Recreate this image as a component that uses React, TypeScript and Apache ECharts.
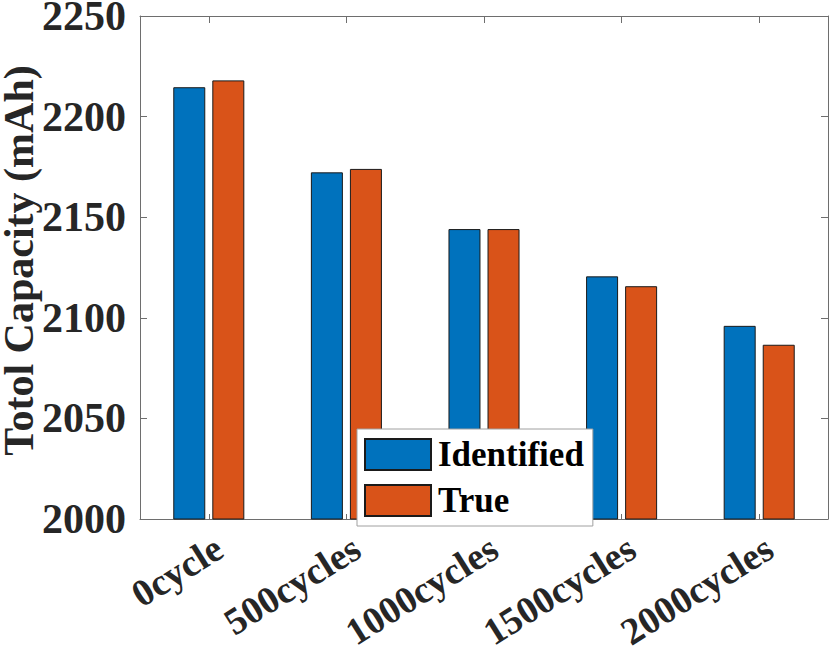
import React, { useEffect, useRef } from "react";
import * as echarts from "echarts";

const categories = ["0cycle", "500cycles", "1000cycles", "1500cycles", "2000cycles"];
const identified = [2214.6, 2172.3, 2144.1, 2120.6, 2096.0];
const trueVals = [2218.0, 2174.0, 2144.1, 2115.7, 2086.6];
const yTicks = { min: 2000, max: 2250, interval: 50 };

const FONT = "'Liberation Serif', 'Times New Roman', serif";
const AXIS_COLOR = "#6e6e6e";
const TEXT_COLOR = "#262626";

export default function App() {
  const ref = useRef<HTMLDivElement>(null);
  useEffect(() => {
    document.body.style.margin = "0";
    const chart = echarts.init(ref.current!, null, { renderer: "svg" });
    chart.setOption({
      animation: false,
      grid: { left: 140, right: 2, top: 16, bottom: 140, containLabel: false, outerBoundsMode: "none" },
      legend: {
        orient: "vertical",
        left: 357,
        top: 429,
        icon: "rect",
        itemWidth: 66,
        itemHeight: 31,
        itemGap: 11,
        padding: [8, 9, 8, 7],
        backgroundColor: "#ffffff",
        borderColor: "#a0a0a0",
        borderWidth: 1,
        textStyle: {
          fontFamily: FONT,
          fontWeight: "bold",
          fontSize: 35,
          color: "#000",
          lineHeight: 31,
          padding: [0, 0, 0, 2],
        },
        data: ["Identified", "True"],
      },
      xAxis: [
        {
          type: "category",
          data: categories,
          position: "bottom",
          axisLine: { show: true, lineStyle: { color: AXIS_COLOR, width: 1 } },
          axisTick: { show: true, inside: true, alignWithLabel: true, length: 5, lineStyle: { color: AXIS_COLOR } },
          axisLabel: {
            rotate: 32,
            margin: 32,
            padding: [0, -12, 0, 0],
            fontFamily: FONT,
            fontWeight: "bold",
            fontSize: 38,
            color: TEXT_COLOR,
          },
          splitLine: { show: false },
        },
        {
          type: "category",
          data: categories,
          position: "top",
          axisLine: { show: true, lineStyle: { color: AXIS_COLOR, width: 1 } },
          axisTick: { show: true, inside: true, alignWithLabel: true, length: 7, lineStyle: { color: AXIS_COLOR } },
          axisLabel: { show: false },
          splitLine: { show: false },
        },
      ],
      yAxis: [
        {
          type: "value",
          min: yTicks.min,
          max: yTicks.max,
          interval: yTicks.interval,
          position: "left",
          name: "Totol Capacity (mAh)",
          nameLocation: "middle",
          nameGap: 102,
          nameMoveOverlap: false,
          nameTextStyle: {
            fontFamily: FONT,
            fontWeight: "bold",
            fontSize: 42,
            lineHeight: 38,
            color: TEXT_COLOR,
            padding: [0, 0, 0, 14],
          },
          axisLine: { show: true, lineStyle: { color: AXIS_COLOR, width: 1 } },
          axisTick: { show: true, inside: true, length: 7, lineStyle: { color: AXIS_COLOR } },
          axisLabel: {
            margin: 14,
            fontFamily: FONT,
            fontWeight: "bold",
            fontSize: 42,
            lineHeight: 30,
            color: TEXT_COLOR,
            formatter: (v: number) => String(v),
          },
          splitLine: { show: false },
        },
        {
          type: "value",
          min: yTicks.min,
          max: yTicks.max,
          interval: yTicks.interval,
          position: "right",
          axisLine: { show: true, lineStyle: { color: AXIS_COLOR, width: 1 } },
          axisTick: { show: true, inside: true, length: 7, lineStyle: { color: AXIS_COLOR } },
          axisLabel: { show: false },
          splitLine: { show: false },
        },
      ],
      series: [
        {
          name: "Identified",
          type: "bar",
          data: identified,
          barWidth: 32,
          barGap: "22%",
          itemStyle: { color: "#0072BD", borderColor: "#1a1a1a", borderWidth: 1 },
        },
        {
          name: "True",
          type: "bar",
          data: trueVals,
          barWidth: 32,
          barGap: "22%",
          itemStyle: { color: "#D95319", borderColor: "#1a1a1a", borderWidth: 1 },
        },
      ],
    });
    return () => chart.dispose();
  }, []);
  return <div ref={ref} style={{ width: 830, height: 659 }} />;
}
